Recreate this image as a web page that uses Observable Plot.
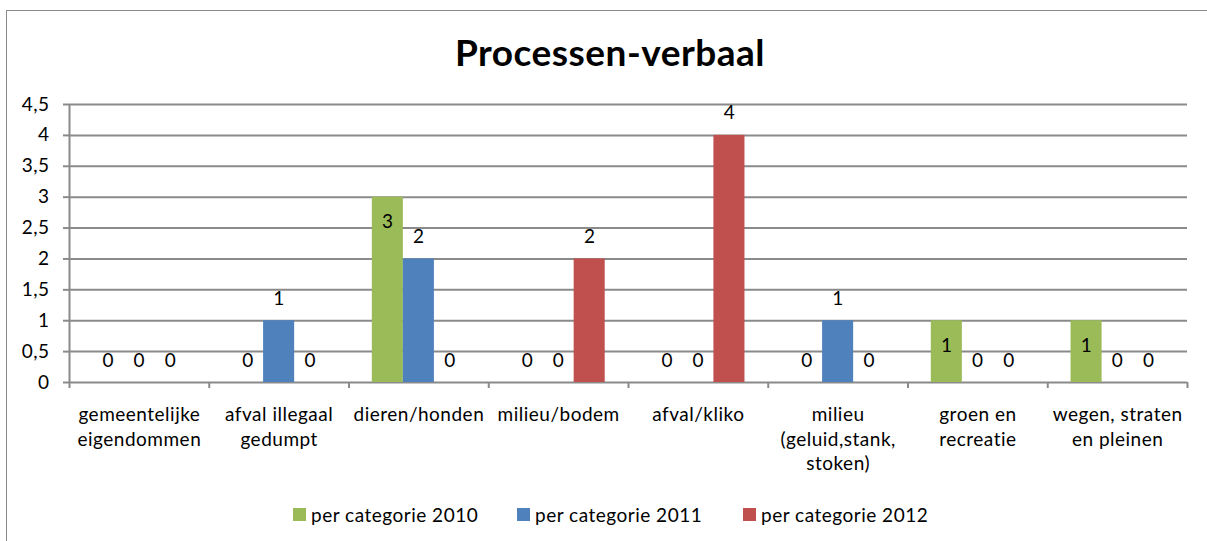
<!DOCTYPE html>
<html>
<head>
<meta charset="utf-8">
<script src="https://cdn.jsdelivr.net/npm/d3@7"></script>
<script src="https://cdn.jsdelivr.net/npm/@observablehq/plot@0.6"></script>
<style>
  html, body { margin: 0; padding: 0; background: #fff; }
  #wrap { position: relative; width: 1207px; height: 541px; overflow: hidden; font-family: Lato, "Open Sans", sans-serif; }
  #border { position: absolute; left: 6px; top: 10px; width: 1400px; height: 700px; border-left: 1.5px solid #8a8a8a; border-top: 1.5px solid #8a8a8a; }
  #title { position: absolute; top: 29px; left: 0; width: 1220px; text-align: center; font-weight: bold; font-size: 37px; letter-spacing: 0.5px; color: #000; }
  #chart { position: absolute; left: 0; top: 0; }
  #legend { position: absolute; top: 503px; left: 0; width: 1207px; font-size: 19px; letter-spacing: 0.5px; color: #000; }
  .item { position: absolute; display: flex; align-items: center; white-space: nowrap; }
  .sw { width: 13px; height: 13px; margin-right: 5px; }
</style>
</head>
<body>
<div id="wrap">
  <div id="border"></div>
  <div id="title">Processen-verbaal</div>
  <div id="chart"></div>
  <div id="legend"></div>
</div>
<script>
// ---- data ----
const categories = [
  "gemeentelijke eigendommen",
  "afval illegaal gedumpt",
  "dieren/honden",
  "milieu/bodem",
  "afval/kliko",
  "milieu (geluid,stank, stoken)",
  "groen en recreatie",
  "wegen, straten en pleinen"
];
const tickLabels = [
  "gemeentelijke\neigendommen",
  "afval illegaal\ngedumpt",
  "dieren/honden",
  "milieu/bodem",
  "afval/kliko",
  "milieu\n(geluid,stank,\nstoken)",
  "groen en\nrecreatie",
  "wegen, straten\nen pleinen"
];
const seriesNames = ["per categorie 2010", "per categorie 2011", "per categorie 2012"];
const values2010 = [0, 0, 3, 0, 0, 0, 1, 1];
const values2011 = [0, 1, 2, 0, 0, 1, 0, 0];
const values2012 = [0, 0, 0, 2, 4, 0, 0, 0];
const seriesColors = ["#9BBB59", "#4F81BD", "#C0504D"];
const yTicks = [0, 0.5, 1, 1.5, 2, 2.5, 3, 3.5, 4, 4.5];

// ---- build table ----
const seriesValues = [values2010, values2011, values2012];
const rows = [];
categories.forEach((c, i) => {
  seriesNames.forEach((s, k) => {
    rows.push({category: c, ci: i, series: s, si: k, value: seriesValues[k][i]});
  });
});

// Excel-style clustered bars: gap width 150%
const gapWidth = 1.5;
const w = 1 / (seriesNames.length + gapWidth);
const pad = gapWidth * w / 2;
const left = d => d.ci + pad + d.si * w;
const right = d => d.ci + pad + (d.si + 1) * w;
const mid = d => d.ci + pad + (d.si + 0.5) * w;

const gridColor = "#8a8a8a";
const font = "Lato, 'Open Sans', sans-serif";
const fs = 19;

const plot = Plot.plot({
  width: 1207,
  height: 500,
  marginTop: 104,
  marginBottom: 118,
  marginLeft: 69,
  marginRight: 20,
  style: {fontFamily: font, fontSize: fs + "px", color: "#000", background: "transparent", letterSpacing: "0.5px"},
  x: {domain: [0, categories.length], axis: null},
  y: {domain: [0, 4.5], axis: null},
  color: {domain: seriesNames, range: seriesColors},
  marks: [
    Plot.gridY(yTicks, {stroke: gridColor, strokeOpacity: 1, strokeWidth: 2}),
    Plot.ruleX([0], {stroke: gridColor, strokeWidth: 2}),
    Plot.axisY(yTicks, {
      tickSize: 6, tickPadding: 14, stroke: gridColor, strokeWidth: 2, label: null,
      tickFormat: d => String(d).replace(".", ","), fontSize: fs, fill: "#000"
    }),
    Plot.axisX(d3.range(categories.length + 1), {
      tickSize: 6, stroke: gridColor, strokeWidth: 2, label: null, tickFormat: () => ""
    }),
    Plot.text(categories, {
      x: (d, i) => i + 0.5, y: 0, text: (d, i) => tickLabels[i],
      lineAnchor: "top", dy: 21, lineHeight: 1.3, fontSize: fs, fill: "#000"
    }),
    Plot.rectY(rows, {x1: left, x2: right, y1: 0, y2: "value", fill: "series"}),
    Plot.text(rows.filter(d => !(d.si === 0 && d.value > 0)), {
      x: mid, y: "value", text: d => String(d.value), dy: -22, fontSize: fs, fill: "#000"
    }),
    Plot.text(rows.filter(d => d.si === 0 && d.value > 0), {
      x: mid, y: "value", text: d => String(d.value), dy: 25, fontSize: fs, fill: "#000"
    })
  ]
});
document.getElementById("chart").appendChild(plot);

// ---- legend ----
const legend = document.getElementById("legend");
const legendX = [293, 517, 743];
seriesNames.forEach((s, k) => {
  const item = document.createElement("div");
  item.className = "item";
  item.style.left = legendX[k] + "px";
  const sw = document.createElement("span");
  sw.className = "sw";
  sw.style.background = seriesColors[k];
  const t = document.createElement("span");
  t.textContent = s;
  item.appendChild(sw);
  item.appendChild(t);
  legend.appendChild(item);
});
</script>
</body>
</html>
